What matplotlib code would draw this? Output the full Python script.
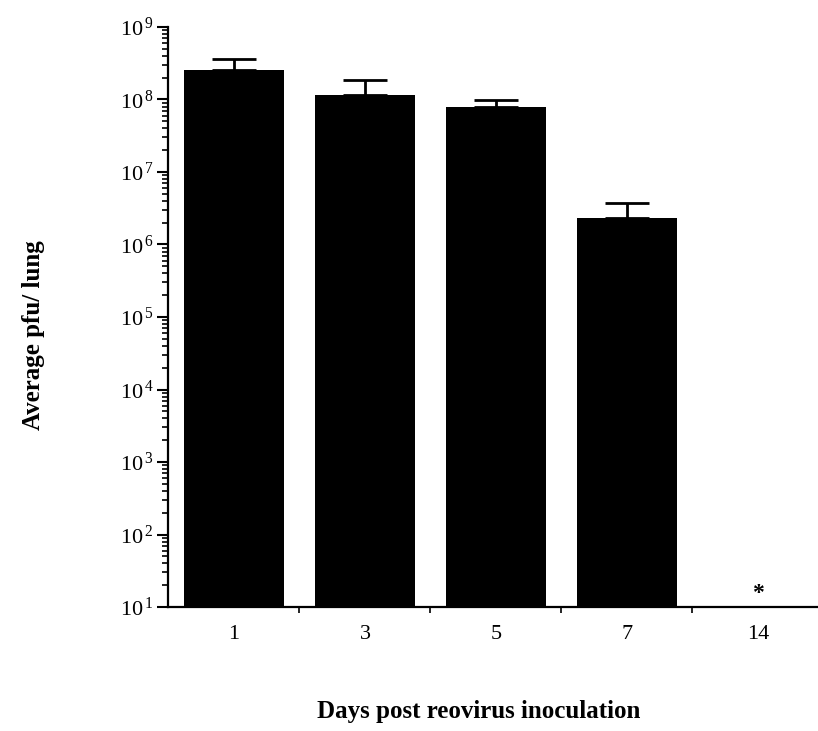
import numpy as np
import matplotlib.pyplot as plt
from matplotlib.ticker import LogLocator, FixedLocator, NullFormatter

plt.rcParams['font.family'] = ['Liberation Serif', 'DejaVu Serif']
plt.rcParams['mathtext.fontset'] = 'custom'
plt.rcParams['mathtext.rm'] = 'Liberation Serif'

# data
days = ["1", "3", "5", "7", "14"]
mean_pfu = [2.55e8, 1.15e8, 7.9e7, 2.3e6, np.nan]
upper_err = [1.05e8, 0.71e8, 1.9e7, 1.4e6, np.nan]

fig = plt.figure(figsize=(8.18, 7.31), dpi=100)
ax = fig.add_axes([0.2054, 0.1696, 0.7946, 0.7935])

x = np.arange(len(days))
vals = np.array(mean_pfu)
errs = np.array(upper_err)
ax.bar(x, np.nan_to_num(vals, nan=0.0), width=0.76, color='black', zorder=2)
lower = np.zeros_like(errs)
ax.errorbar(x[:4], vals[:4], yerr=[lower[:4], errs[:4]], fmt='none',
            ecolor='black', elinewidth=2, capsize=16, capthick=2, zorder=1)

# asterisk for day 14 (below detection)
ax.text(x[4], 15.5, "*", ha='center', va='center', fontsize=17, fontweight='bold')

ax.set_yscale('log')
ax.set_ylim(10, 1e9)
ax.set_xlim(-0.504, 4.46)

ax.yaxis.set_minor_locator(LogLocator(base=10, subs=np.arange(2, 10), numticks=20))
ax.yaxis.set_minor_formatter(NullFormatter())
exps = range(1, 10)
ax.set_yticks([10.0 ** e for e in exps])
ax.set_yticklabels([r"$\mathregular{10^{\,%d}}$" % e for e in exps], fontsize=16)
ax.tick_params(axis='y', which='major', direction='out', length=8, width=1.5, pad=2)
ax.tick_params(axis='y', which='minor', direction='out', length=4, width=1.2)

ax.set_xticks(x)
ax.set_xticklabels(days, fontsize=16)
ax.xaxis.set_minor_locator(FixedLocator(x[:-1] + 0.5))
ax.tick_params(axis='x', which='major', length=0, pad=13)
ax.tick_params(axis='x', which='minor', direction='out', length=4, width=1.2)

for side in ['top', 'right']:
    ax.spines[side].set_visible(False)
for side in ['left', 'bottom']:
    ax.spines[side].set_linewidth(1.6)

fig.text(0.041, 0.542, "Average pfu/ lung", rotation=90, ha='center', va='center',
         fontsize=18, fontweight='bold')
fig.text(0.585, 0.026, "Days post reovirus inoculation", ha='center', va='center',
         fontsize=18, fontweight='bold')

fig.savefig("out.png", dpi=100)
